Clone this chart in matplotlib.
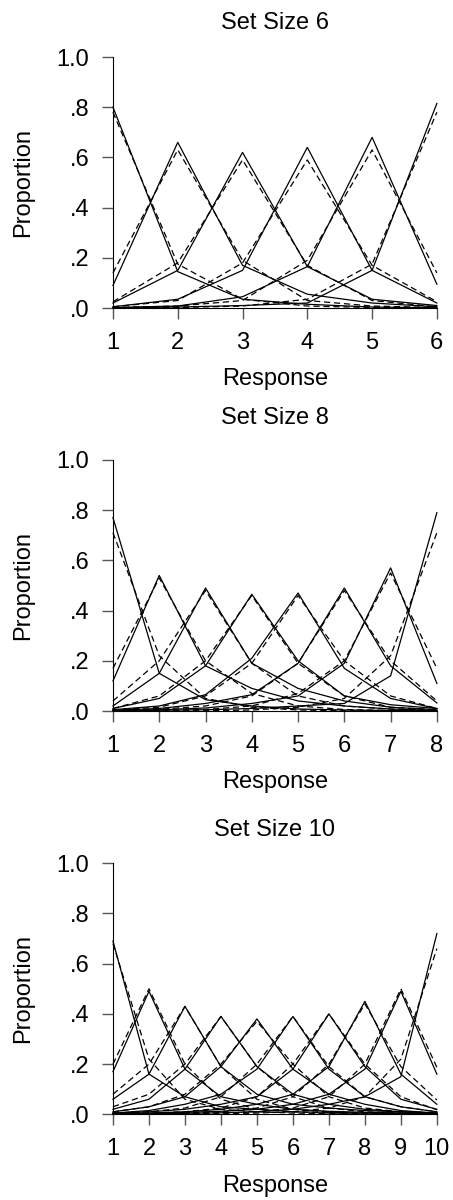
import matplotlib
matplotlib.use("Agg")
import matplotlib.pyplot as plt

plt.rcParams['font.family'] = ['Liberation Sans', 'DejaVu Sans']

set_sizes = [6, 8, 10]
titles = ["Set Size 6", "Set Size 8", "Set Size 10"]
ytick_vals = [0.0, 0.2, 0.4, 0.6, 0.8, 1.0]
ytick_labels = [".0", ".2", ".4", ".6", ".8", "1.0"]

# observed response proportions (rows = stimulus, cols = response)
data_6 = [
    [0.80, 0.145, 0.035, 0.015, 0.004, 0.001],
    [0.09, 0.66, 0.17, 0.055, 0.02, 0.005],
    [0.02, 0.15, 0.62, 0.165, 0.035, 0.01],
    [0.005, 0.035, 0.15, 0.64, 0.15, 0.02],
    [0.002, 0.008, 0.045, 0.165, 0.68, 0.095],
    [0.001, 0.004, 0.01, 0.02, 0.15, 0.815],
]
# model predictions (dashed)
model_6 = [
    [0.78, 0.175, 0.035, 0.008, 0.002, 0.0],
    [0.14, 0.63, 0.19, 0.03, 0.008, 0.002],
    [0.025, 0.18, 0.59, 0.17, 0.03, 0.005],
    [0.005, 0.03, 0.18, 0.59, 0.17, 0.025],
    [0.002, 0.008, 0.03, 0.19, 0.63, 0.14],
    [0.0, 0.002, 0.008, 0.035, 0.175, 0.78],
]

data_8 = [
    [0.77, 0.15, 0.045, 0.02, 0.008, 0.004, 0.002, 0.001],
    [0.12, 0.54, 0.18, 0.09, 0.04, 0.02, 0.008, 0.002],
    [0.02, 0.15, 0.49, 0.19, 0.09, 0.04, 0.015, 0.005],
    [0.01, 0.05, 0.18, 0.465, 0.20, 0.06, 0.025, 0.01],
    [0.005, 0.02, 0.065, 0.21, 0.47, 0.17, 0.05, 0.01],
    [0.003, 0.01, 0.03, 0.065, 0.19, 0.49, 0.18, 0.032],
    [0.002, 0.005, 0.012, 0.03, 0.06, 0.19, 0.57, 0.11],
    [0.001, 0.003, 0.005, 0.01, 0.02, 0.03, 0.14, 0.79],
]
model_8 = [
    [0.71, 0.22, 0.05, 0.015, 0.004, 0.001, 0.0, 0.0],
    [0.17, 0.53, 0.20, 0.07, 0.02, 0.006, 0.002, 0.001],
    [0.04, 0.20, 0.48, 0.19, 0.06, 0.02, 0.007, 0.003],
    [0.01, 0.06, 0.20, 0.46, 0.19, 0.06, 0.015, 0.005],
    [0.005, 0.015, 0.06, 0.19, 0.46, 0.20, 0.06, 0.01],
    [0.003, 0.007, 0.02, 0.06, 0.19, 0.48, 0.20, 0.04],
    [0.001, 0.002, 0.006, 0.02, 0.07, 0.20, 0.55, 0.17],
    [0.0, 0.0, 0.001, 0.004, 0.015, 0.05, 0.22, 0.71],
]

data_10 = [
    [0.69, 0.16, 0.07, 0.03, 0.02, 0.01, 0.008, 0.005, 0.004, 0.003],
    [0.17, 0.49, 0.18, 0.07, 0.04, 0.02, 0.012, 0.008, 0.005, 0.003],
    [0.06, 0.16, 0.43, 0.19, 0.08, 0.04, 0.025, 0.015, 0.01, 0.005],
    [0.02, 0.06, 0.18, 0.39, 0.19, 0.08, 0.04, 0.02, 0.01, 0.005],
    [0.01, 0.03, 0.07, 0.19, 0.38, 0.18, 0.08, 0.04, 0.015, 0.005],
    [0.005, 0.015, 0.04, 0.08, 0.18, 0.39, 0.18, 0.07, 0.03, 0.01],
    [0.005, 0.01, 0.02, 0.04, 0.07, 0.18, 0.40, 0.19, 0.06, 0.02],
    [0.003, 0.005, 0.01, 0.02, 0.04, 0.08, 0.19, 0.45, 0.16, 0.04],
    [0.002, 0.004, 0.008, 0.012, 0.02, 0.04, 0.08, 0.18, 0.49, 0.16],
    [0.001, 0.002, 0.004, 0.006, 0.01, 0.02, 0.04, 0.07, 0.15, 0.72],
]
model_10 = [
    [0.68, 0.22, 0.06, 0.02, 0.01, 0.005, 0.003, 0.001, 0.001, 0.0],
    [0.20, 0.50, 0.20, 0.06, 0.02, 0.01, 0.005, 0.003, 0.001, 0.001],
    [0.08, 0.20, 0.43, 0.19, 0.06, 0.02, 0.01, 0.005, 0.003, 0.002],
    [0.03, 0.08, 0.20, 0.39, 0.19, 0.07, 0.025, 0.01, 0.004, 0.001],
    [0.01, 0.03, 0.08, 0.20, 0.37, 0.20, 0.07, 0.025, 0.01, 0.005],
    [0.005, 0.01, 0.025, 0.07, 0.20, 0.39, 0.19, 0.07, 0.03, 0.01],
    [0.002, 0.005, 0.01, 0.025, 0.07, 0.20, 0.40, 0.20, 0.07, 0.018],
    [0.001, 0.002, 0.005, 0.01, 0.025, 0.07, 0.20, 0.44, 0.19, 0.057],
    [0.0, 0.001, 0.002, 0.005, 0.01, 0.025, 0.07, 0.20, 0.50, 0.187],
    [0.0, 0.0, 0.001, 0.002, 0.005, 0.01, 0.025, 0.07, 0.22, 0.66],
]

all_data = [data_6, data_8, data_10]
all_model = [model_6, model_8, model_10]

fig = plt.figure(figsize=(4.53, 12), dpi=100)
bottoms = [0.7433, 0.4075, 0.0714]
title_pads = [20, 26, 20]

for k in range(3):
    n = set_sizes[k]
    ax = fig.add_axes([0.2494, bottoms[k], 0.715, 0.2092])
    x = list(range(1, n + 1))
    for row in all_data[k]:
        ax.plot(x, row, color='black', lw=0.9, clip_on=False)
    for row in all_model[k]:
        ax.plot(x, row, color='black', lw=0.9, ls=(0, (5, 3)), clip_on=False)
    ax.set_xlim(1, n)
    ax.set_ylim(0, 1)
    ax.set_xticks(x)
    ax.set_yticks(ytick_vals)
    ax.set_yticklabels(ytick_labels)
    ax.spines['top'].set_visible(False)
    ax.spines['right'].set_visible(False)
    ax.tick_params(length=8, width=1, color='#555555', labelsize=17, pad=9)
    ax.set_title(titles[k], fontsize=17, pad=title_pads[k])
    ax.set_xlabel("Response", fontsize=17, labelpad=10.5)
    ax.set_ylabel("Proportion", fontsize=17, labelpad=16)

fig.savefig("out.png", dpi=100)
